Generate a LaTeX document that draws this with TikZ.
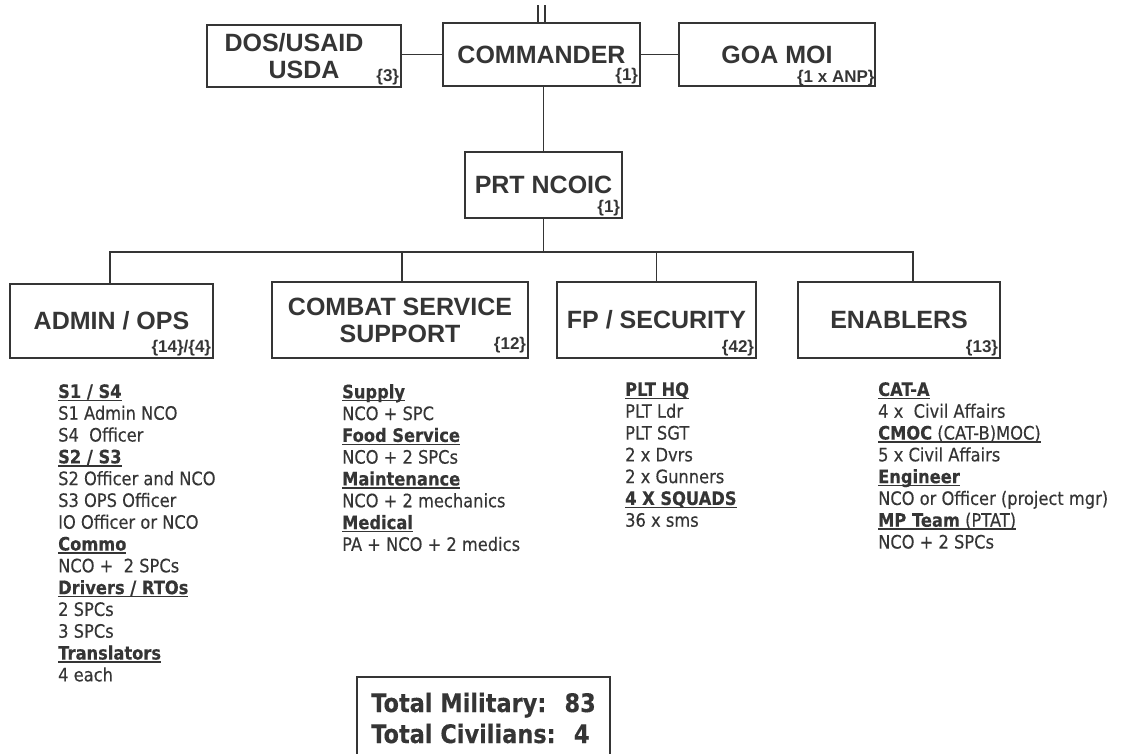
\documentclass[tikz,border=0pt]{standalone}
\usepackage{fontspec}
\newfontfamily\boxfont{Liberation Sans}
\newfontfamily\listfont[FakeStretch=0.88, FakeBold=0.3]{DejaVu Sans}
\usetikzlibrary{positioning}
\definecolor{ink}{HTML}{353535}
\newcommand\ulin[1]{\leavevmode\setbox0\hbox{#1}\rlap{\rule[-3.2pt]{\wd0}{1.5pt}}\box0}
\newcommand\hd[1]{\ulin{\textbf{#1}}}

\begin{document}
\begin{tikzpicture}[x=1pt, y=-1pt,
		unit/.style={draw=ink, line width=1.6pt, text=ink, align=center, inner sep=0pt, font=\boxfont\bfseries\fontsize{25}{27}\selectfont},
		cnt/.style={anchor=south east, inner sep=2.5pt, text=ink, font=\boxfont\bfseries\fontsize{17}{17}\selectfont},
		roster/.style={anchor=north west, inner sep=0pt, align=left, text=ink, font=\listfont\fontsize{18.5}{21.8}\selectfont},
		link/.style={draw=ink, line width=1.4pt}]
		\useasboundingbox (0,0) rectangle (1125,753);
		% top row
		\node[unit, minimum width=197pt, minimum height=63pt, label={[cnt]south east:\{1\}}] (cmd) at (541.5,54.5) {COMMANDER};
		\node[unit, minimum width=194pt, minimum height=62pt, label={[cnt]south east:\{3\}}] (dos) at (304,56) {DOS/USAID\hspace*{20pt}\\USDA};
		\node[unit, minimum width=196pt, minimum height=63pt, label={[cnt, inner sep=1pt]south east:\{1 x ANP\}}] (goa) at (777,54.5) {GOA MOI};
		\node[unit, minimum width=157pt, minimum height=66pt, label={[cnt]south east:\{1\}}] (ncoic) at (543.5,185) {PRT NCOIC};
		% sections
		\node[unit, minimum width=203pt, minimum height=74pt, label={[cnt]south east:\{14\}/\{4\}}] (admin) at (111.5,321) {ADMIN / OPS};
		\node[unit, minimum width=256pt, minimum height=76pt, label={[cnt, yshift=3pt]south east:\{12\}}] (css) at (400,320) {COMBAT SERVICE\\SUPPORT};
		\node[unit, minimum width=199pt, minimum height=76pt, label={[cnt]south east:\{42\}}] (fp) at (656.5,320) {FP / SECURITY};
		\node[unit, minimum width=202pt, minimum height=76pt, label={[cnt]south east:\{13\}}] (enab) at (899,320) {ENABLERS};
		\coordinate (bus) at (543.5,252);
		\coordinate (top) at (541.5,5);
		% connectors
		\draw[link] (cmd.west) -- (cmd.west -| dos.east);
		\draw[link] (cmd.east) -- (cmd.east -| goa.west);
		\draw[link] ([xshift=-3.5pt]cmd.north) -- ([xshift=-3.5pt]top);
		\draw[link] ([xshift=3.5pt]cmd.north) -- ([xshift=3.5pt]top);
		\draw[link] (ncoic.north) -- (ncoic.north |- cmd.south);
		\draw[link] (ncoic.south) -- (bus);
		\draw[link] ([xshift=-1.5pt]admin.north) |- (bus) -| ([xshift=14pt]enab.north);
		\draw[link] ([xshift=2pt]css.north) -- ([xshift=2pt]css.north |- bus);
		\draw[link] (fp.north) -- (fp.north |- bus);
		% rosters
		\node[roster] (adminlist) at (58,384) {\hd{S1 / S4}\\S1 Admin NCO\\S4 \ Officer\\\hd{S2 / S3}\\S2 Officer and NCO\\S3 OPS Officer\\IO Officer or NCO\\\hd{Commo}\\NCO + \ 2 SPCs\\\hd{Drivers / RTOs}\\2 SPCs\\3 SPCs\\\hd{Translators}\\4 each};
		\node[roster] (csslist) at (342,384) {\hd{Supply}\\NCO + SPC\\\hd{Food Service}\\NCO + 2 SPCs\\\hd{Maintenance}\\NCO + 2 mechanics\\\hd{Medical}\\PA + NCO + 2 medics};
		\node[roster] (fplist) at (625,382) {\hd{PLT HQ}\\PLT Ldr\\PLT SGT\\2 x Dvrs\\2 x Gunners\\\hd{4 X SQUADS}\\36 x sms};
		\node[roster] (enablist) at (878,382) {\hd{CAT-A}\\4 x \ Civil Affairs\\\ulin{\textbf{CMOC} (CAT-B)MOC)}\\5 x Civil Affairs\\\hd{Engineer}\\NCO or Officer (project mgr)\\\ulin{\textbf{MP Team} (PTAT)}\\NCO + 2 SPCs};
		% totals
		\node[draw=ink, line width=1.4pt, text=ink, align=left, minimum width=253pt, minimum height=82pt, font=\listfont\bfseries\fontsize{25.5}{31}\selectfont] (total) at (483.5,718) {Total Military: \ 83\\Total Civilians: \ 4};
	\end{tikzpicture}
\end{document}
